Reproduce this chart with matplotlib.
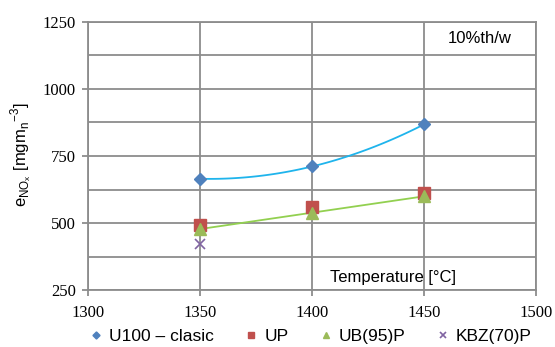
import matplotlib
matplotlib.use("Agg")
import matplotlib.pyplot as plt
import numpy as np

# data
temps = [1350, 1400, 1450]
u100 = [665, 711, 868]
up = [492, 560, 613]
ub95p = [478, 538, 600]
kbz_t = [1350]
kbz = [422]

xticks = [1300, 1350, 1400, 1450, 1500]
yticks = [250, 500, 750, 1000, 1250]

fig = plt.figure(figsize=(5.55, 3.47), dpi=100)
ax = fig.add_axes([0.159, 0.164, 0.807, 0.773])

grid_c = '#8c8c8c'
ax.set_xlim(1300, 1500)
ax.set_ylim(250, 1250)
ax.set_xticks(xticks)
ax.set_yticks(yticks)
ax.set_yticks(np.arange(375, 1250, 250), minor=True)
ax.grid(True, which='both', color=grid_c, linewidth=1.3)
ax.set_axisbelow(True)
for s in ax.spines.values():
    s.set_color(grid_c)
    s.set_linewidth(1.3)
ax.tick_params(which='both', color=grid_c, width=1.3, length=4, labelsize=12)
ax.tick_params(which='minor', length=0)
for lab in ax.get_xticklabels() + ax.get_yticklabels():
    lab.set_fontfamily('Liberation Serif')
ax.tick_params(axis='x', pad=7)
ax.tick_params(axis='y', pad=5)

# trendlines
tt = np.linspace(1350, 1450, 100)
c2 = np.polyfit(temps, u100, 2)
ax.plot(tt, np.polyval(c2, tt), color='#1fb4ec', linewidth=1.3)
c1 = np.polyfit(temps, ub95p, 1)
ax.plot(tt, np.polyval(c1, tt), color='#92d050', linewidth=1.3)

ax.plot(temps, u100, 'D', color='#4f81bd', markersize=6, linestyle='none', label='U100 – clasic')
ax.plot(temps, up, 's', color='#c0504d', markersize=8, linestyle='none', label='UP')
ax.plot(temps, ub95p, '^', color='#9bbb59', markersize=8, linestyle='none', label='UB(95)P')
ax.plot(kbz_t, kbz, 'x', color='#8064a2', markersize=7, mew=1.2, linestyle='none', label='KBZ(70)P')

ax.text(1464, 298, 'Temperature [°C]', ha='right', va='center', fontsize=12,
        family='Liberation Sans')
ax.text(1475, 1187, '10%th/w', ha='center', va='center', fontsize=12,
        family='Liberation Sans')

fig.text(0.038, 0.553, r'e$_{\mathregular{NO_x}}$ [mgm$_\mathregular{n}$$^{\mathregular{-3}}$]',
         rotation=90, ha='center', va='center', fontsize=12, family='Liberation Sans')

leg = fig.legend(loc='center', bbox_to_anchor=(0.56, 0.03), ncol=4, frameon=False,
                 prop={'family': 'Liberation Sans', 'size': 12.5}, markerscale=0.6,
                 handlelength=0.7, handletextpad=0.4, columnspacing=1.8)

plt.savefig('out.png', dpi=100)
